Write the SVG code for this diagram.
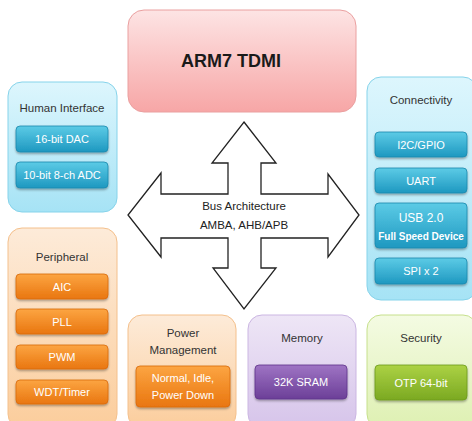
<svg xmlns="http://www.w3.org/2000/svg" width="472" height="421" viewBox="0 0 472 421">
<defs>
<linearGradient id="gArm" x1="0" y1="0" x2="0" y2="1"><stop offset="0" stop-color="#fde4e4"/><stop offset="1" stop-color="#f7a6a6"/></linearGradient>
<linearGradient id="gCyan" x1="0" y1="0" x2="0" y2="1"><stop offset="0" stop-color="#ddf6fd"/><stop offset="1" stop-color="#a6e3f5"/></linearGradient>
<linearGradient id="gPeach" x1="0" y1="0" x2="0" y2="1"><stop offset="0" stop-color="#fdebd9"/><stop offset="1" stop-color="#fbcd9c"/></linearGradient>
<linearGradient id="gLav" x1="0" y1="0" x2="0" y2="1"><stop offset="0" stop-color="#eee6f6"/><stop offset="1" stop-color="#d6c4ea"/></linearGradient>
<linearGradient id="gLime" x1="0" y1="0" x2="0" y2="1"><stop offset="0" stop-color="#f4fbe3"/><stop offset="1" stop-color="#def0b2"/></linearGradient>
<linearGradient id="bBlue" x1="0" y1="0" x2="0" y2="1"><stop offset="0" stop-color="#5ccbe6"/><stop offset="1" stop-color="#1e98c0"/></linearGradient>
<linearGradient id="bOrange" x1="0" y1="0" x2="0" y2="1"><stop offset="0" stop-color="#fca542"/><stop offset="1" stop-color="#e97610"/></linearGradient>
<linearGradient id="bPurple" x1="0" y1="0" x2="0" y2="1"><stop offset="0" stop-color="#9f74c4"/><stop offset="1" stop-color="#6c3f98"/></linearGradient>
<linearGradient id="bGreen" x1="0" y1="0" x2="0" y2="1"><stop offset="0" stop-color="#acd244"/><stop offset="1" stop-color="#7ba922"/></linearGradient>
<filter id="sh" x="-10%" y="-20%" width="120%" height="150%"><feDropShadow dx="0" dy="1.5" stdDeviation="1.2" flood-color="#000" flood-opacity="0.35"/></filter>
</defs>
<style>
text{font-family:"Liberation Sans",Arial,sans-serif;text-anchor:middle}
.title{font-size:11.5px;fill:#333}
.btn{font-size:11px;fill:#fff}
.box{stroke-width:1}
.b{stroke-width:0.8}
</style>
<rect width="472" height="421" fill="#fff"/>

<g id="arm7">
<rect x="128" y="10" width="228" height="102" rx="16" fill="url(#gArm)" stroke="#eaa0a0"/>
<text x="231" y="67" style="font-size:18px;font-weight:bold;fill:#1a1a1a">ARM7 TDMI</text>
</g>

<g id="connectors">
<polygon points="244,122 276,163 261,163 261,194 328,194 328,174 359,215 328,257 328,238 261,238 261,268 276,268 244,309 213,268 228,268 228,238 161,238 161,257 128,215 161,173 161,194 228,194 228,163 212,163" fill="#fff" stroke="#222" stroke-width="1.3" stroke-linejoin="miter"/>
<text x="244" y="210" style="font-size:11.5px;fill:#222">Bus Architecture</text>
<text x="244" y="229" style="font-size:11.5px;fill:#222">AMBA, AHB/APB</text>
</g>

<g id="human-interface">
<rect x="8" y="82" width="109" height="130" rx="14" fill="url(#gCyan)" stroke="#86d3ea"/>
<text class="title" x="62" y="112">Human Interface</text>
<rect x="16" y="126" width="92" height="26" rx="4" fill="url(#bBlue)" stroke="#1b89ad" class="b" filter="url(#sh)"/>
<text class="btn" x="62" y="143">16-bit DAC</text>
<rect x="16" y="162" width="92" height="26" rx="4" fill="url(#bBlue)" stroke="#1b89ad" class="b" filter="url(#sh)"/>
<text class="btn" x="62" y="179">10-bit 8-ch ADC</text>
</g>

<g id="connectivity">
<rect x="367" y="77" width="110" height="223" rx="14" fill="url(#gCyan)" stroke="#86d3ea"/>
<text class="title" x="421" y="104">Connectivity</text>
<rect x="375" y="132" width="92" height="25" rx="4" fill="url(#bBlue)" stroke="#1b89ad" class="b" filter="url(#sh)"/>
<text class="btn" x="421" y="148.5">I2C/GPIO</text>
<rect x="375" y="168" width="92" height="25" rx="4" fill="url(#bBlue)" stroke="#1b89ad" class="b" filter="url(#sh)"/>
<text class="btn" x="421" y="184.5">UART</text>
<rect x="375" y="203" width="92" height="45" rx="4" fill="url(#bBlue)" stroke="#1b89ad" class="b" filter="url(#sh)"/>
<text class="btn" x="421" y="222" style="font-size:12px">USB 2.0</text>
<text class="btn" x="421" y="240" style="font-size:10px;font-weight:bold">Full Speed Device</text>
<rect x="375" y="258" width="92" height="26" rx="4" fill="url(#bBlue)" stroke="#1b89ad" class="b" filter="url(#sh)"/>
<text class="btn" x="421" y="275">SPI x 2</text>
</g>

<g id="peripheral">
<rect x="8" y="228" width="109" height="200" rx="14" fill="url(#gPeach)" stroke="#f4c08c"/>
<text class="title" x="62" y="261">Peripheral</text>
<rect x="16" y="274" width="92" height="25" rx="4" fill="url(#bOrange)" stroke="#d96a0c" class="b" filter="url(#sh)"/>
<text class="btn" x="62" y="290.5">AIC</text>
<rect x="16" y="309" width="92" height="25" rx="4" fill="url(#bOrange)" stroke="#d96a0c" class="b" filter="url(#sh)"/>
<text class="btn" x="62" y="325.5">PLL</text>
<rect x="16" y="345" width="92" height="24" rx="4" fill="url(#bOrange)" stroke="#d96a0c" class="b" filter="url(#sh)"/>
<text class="btn" x="62" y="361">PWM</text>
<rect x="16" y="380" width="92" height="24" rx="4" fill="url(#bOrange)" stroke="#d96a0c" class="b" filter="url(#sh)"/>
<text class="btn" x="62" y="396">WDT/Timer</text>
</g>

<g id="power-management">
<rect x="128" y="315" width="108" height="113" rx="14" fill="url(#gPeach)" stroke="#f4c08c"/>
<text class="title" x="183" y="337">Power</text>
<text class="title" x="183" y="354">Management</text>
<rect x="136" y="366" width="94" height="41" rx="4" fill="url(#bOrange)" stroke="#d96a0c" class="b" filter="url(#sh)"/>
<text class="btn" x="183" y="382">Normal, Idle,</text>
<text class="btn" x="183" y="399">Power Down</text>
</g>

<g id="memory">
<rect x="248" y="315" width="108" height="113" rx="14" fill="url(#gLav)" stroke="#cbb6e2"/>
<text class="title" x="302" y="342">Memory</text>
<rect x="255" y="365" width="92" height="34" rx="4" fill="url(#bPurple)" stroke="#5e338a" class="b" filter="url(#sh)"/>
<text class="btn" x="301" y="386">32K SRAM</text>
</g>

<g id="security">
<rect x="367" y="315" width="110" height="113" rx="14" fill="url(#gLime)" stroke="#c6e08c"/>
<text class="title" x="421" y="342">Security</text>
<rect x="375" y="365" width="92" height="35" rx="4" fill="url(#bGreen)" stroke="#6c9a1c" class="b" filter="url(#sh)"/>
<text class="btn" x="421" y="386.5">OTP 64-bit</text>
</g>
</svg>
